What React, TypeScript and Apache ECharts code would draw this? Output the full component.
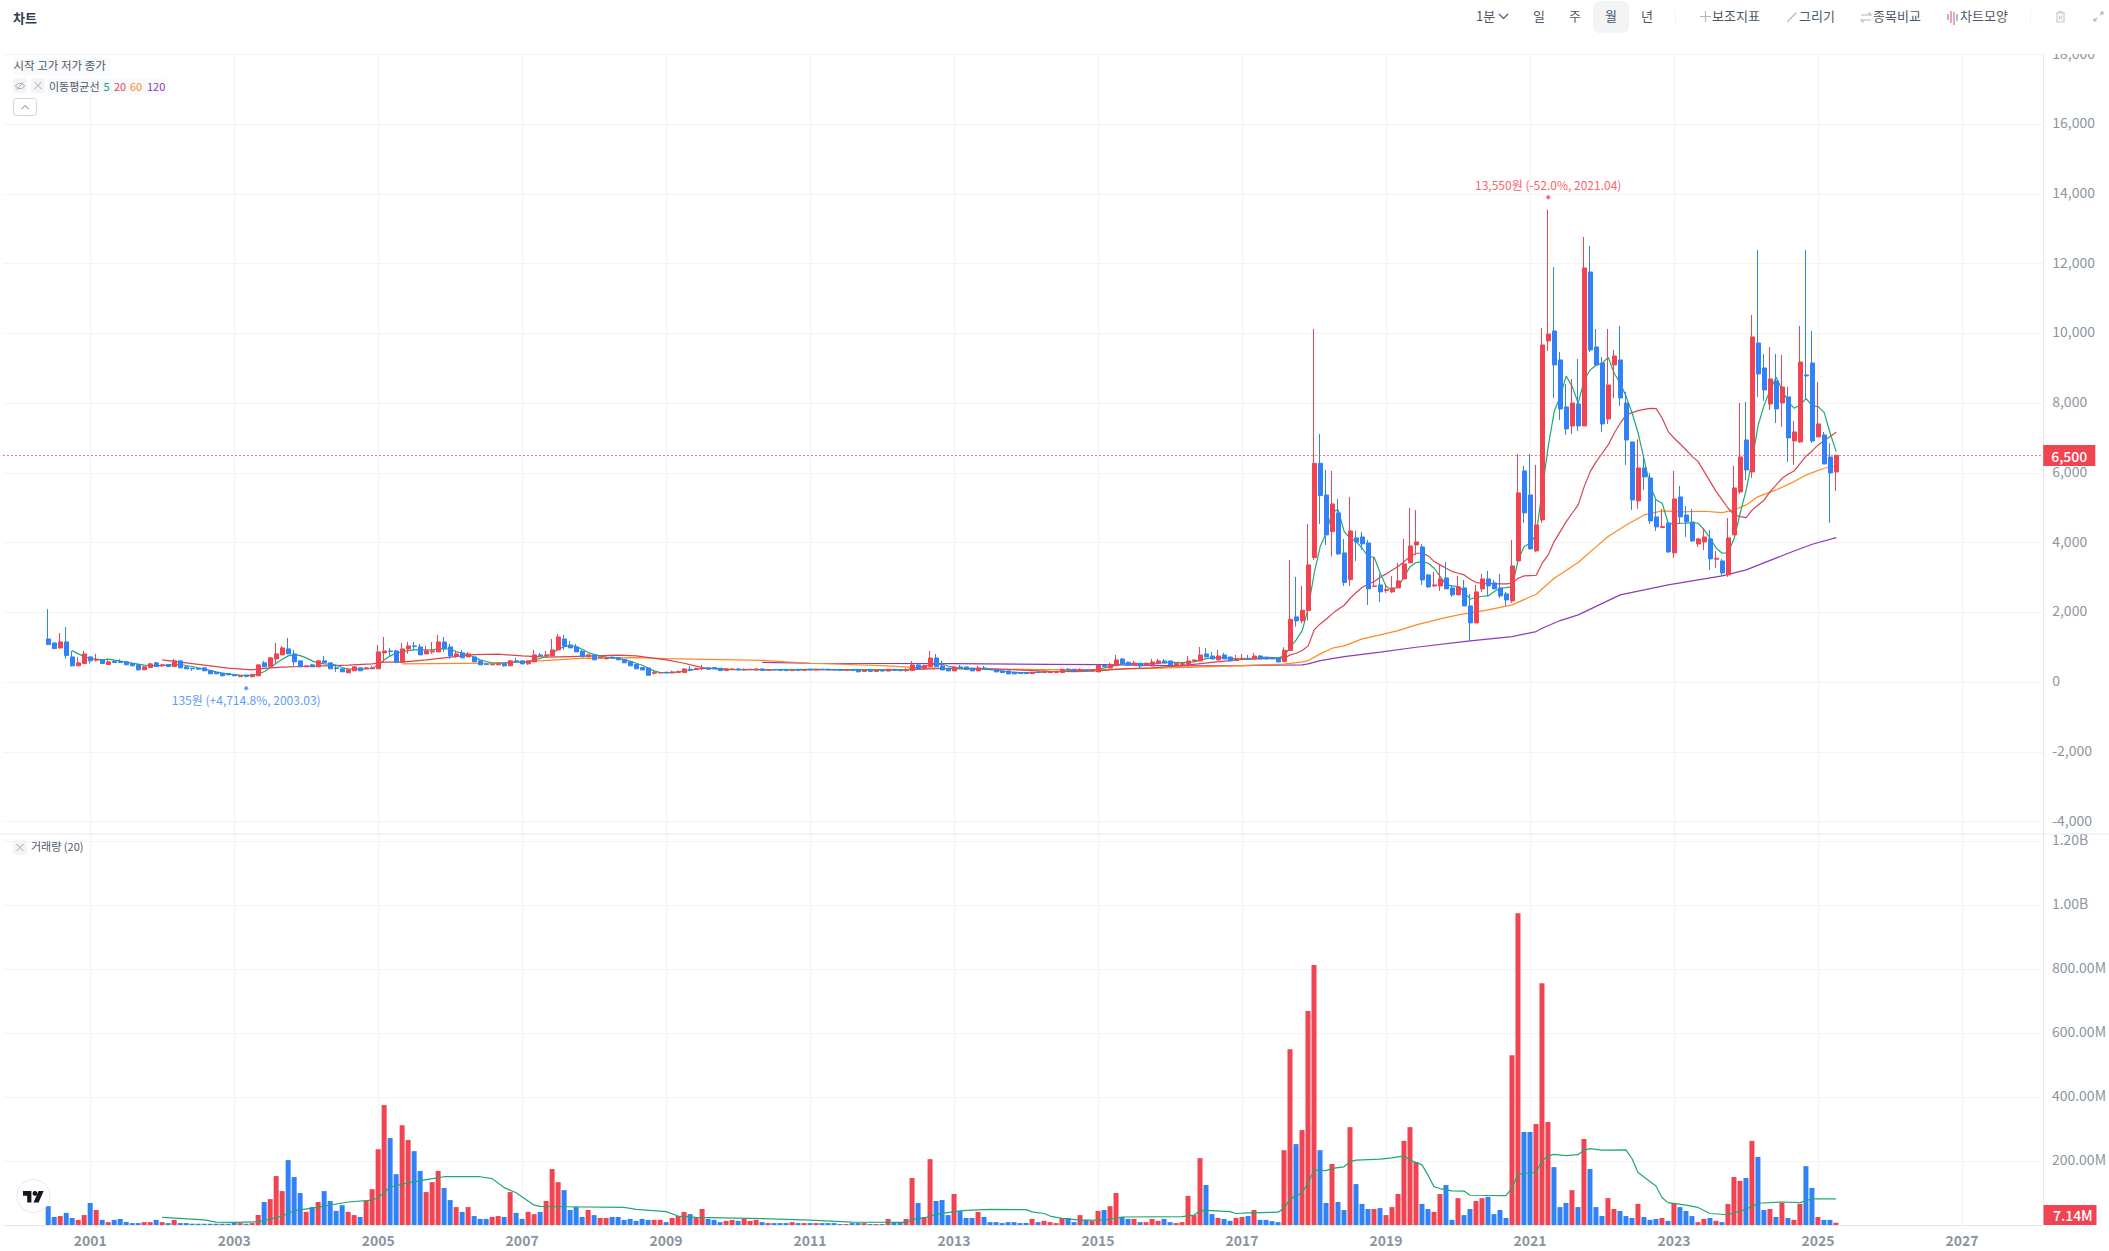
import React, { useEffect, useRef } from "react";
import * as echarts from "echarts";

const FONT = '"Noto Sans CJK KR", "Noto Sans", sans-serif';
const RED = "#f04452";
const BLUE = "#3182f6";
const GRID = "#f2f4f6";
const BORDER = "#e5e8eb";
const AXIS_TEXT = "#8b95a1";
const TEXT = "#4e5968";

const firstCategoryYear = 1999;
const firstCategoryMonth = 11;
const categoryCount = 340;
const firstCandle = "2000.06";
const lastPrice = 6500;
const highMark = { month: "2021.04", value: 13550, text: "13,550원 (-52.0%, 2021.04)" };
const lowMark = { month: "2003.03", value: 135, text: "135원 (+4,714.8%, 2003.03)" };

// open, close, low, high
const ohlc2000to2008 = [
  [1240,1079,1079,2097],[1126,964,964,1126],[983,1155,964,1412],[1155,764,679,1583],[726,469,450,898],[469,555,469,717],[536,812,536,898],
  [726,612,536,736],[631,650,593,812],[641,536,536,660],[507,584,507,641],[593,565,565,641],[593,565,565,660],[584,498,498,593],[536,469,469,545],[498,355,327,507],[355,441,355,469],[422,526,422,555],[555,450,450,584],
  [469,498,450,526],[507,450,450,526],[450,612,450,669],[612,412,412,612],[441,384,384,441],[403,384,327,403],[393,374,355,393],[412,327,327,412],[336,241,241,336],[279,241,241,279],[250,184,184,250],[250,212,212,250],
  [222,184,184,222],[160,193,150,203],[203,165,135,203],[155,222,145,222],[184,498,184,498],[555,441,441,612],[441,698,441,726],[669,812,526,1126],[783,983,783,1041],[955,812,812,1269],[812,584,469,926],[612,441,441,612],
  [441,469,441,480],[498,441,441,526],[441,612,441,641],[612,555,555,755],[555,384,384,555],[412,393,298,469],[384,298,298,384],[269,355,269,412],[327,441,327,441],[412,327,327,412],[384,412,384,441],[384,412,384,469],
  [384,869,384,1069],[841,898,584,1298],[898,879,755,983],[898,574,545,926],[574,955,574,1126],[955,1041,812,1155],[1041,1021,926,1155],[1012,783,783,1098],[812,898,812,1041],[869,898,812,1155],[869,1155,869,1355],[1155,983,869,1298],
  [1012,755,669,1098],[755,812,698,898],[841,698,698,926],[726,812,726,869],[726,584,584,726],[612,498,498,612],[526,507,498,526],[498,516,498,530],[498,526,498,530],[526,469,441,526],[469,612,469,641],[612,593,593,698],
  [612,526,526,612],[526,612,498,612],[584,783,584,926],[783,764,745,841],[755,783,755,898],[755,926,755,1240],[926,1298,926,1383],[1240,1041,926,1355],[1069,983,983,1183],[1012,869,869,1098],[888,726,726,926],[726,783,726,812],
  [783,641,641,812],[698,726,698,740],[669,698,669,710],[717,688,680,730],[698,641,641,726],[650,555,555,650],[584,469,469,584],[507,384,384,507],[419,352,352,419],[409,200,181,409],[257,276,219,333],[267,276,260,285],
];
const ohlc2009to2016 = [
  [286,267,260,290],[267,295,267,333],[276,305,276,333],[276,381,276,390],[371,352,314,466],[362,390,362,419],[390,409,352,495],[409,371,371,420],[419,381,381,430],[400,333,333,400],[333,381,333,400],[362,381,362,409],
  [381,352,340,400],[352,371,340,390],[362,371,352,385],[352,381,350,400],[381,340,333,385],[340,362,333,375],[362,352,345,370],[352,345,340,360],[345,333,325,352],[333,352,330,360],[352,340,335,375],[340,352,335,365],
  [371,352,345,390],[352,371,345,380],[371,362,350,380],[371,352,345,385],[362,352,345,370],[362,340,333,370],[340,362,333,370],[362,340,333,370],[352,300,276,360],[310,340,300,345],[340,310,295,345],[310,345,300,350],
  [345,320,310,352],[320,371,315,381],[371,345,335,375],[345,330,320,352],[330,345,300,400],[333,495,333,609],[495,381,381,552],[400,476,381,500],[447,695,447,895],[695,447,447,809],[466,352,352,609],[400,324,324,400],
  [324,438,324,466],[438,419,400,495],[438,362,362,438],[400,324,324,400],[324,409,324,466],[409,381,370,466],[381,362,362,381],[371,295,295,371],[324,276,276,324],[324,238,238,324],[276,238,238,276],[276,248,248,276],
  [276,248,248,280],[248,286,248,295],[295,276,270,300],[276,314,276,324],[276,295,276,300],[276,314,276,320],[276,371,276,381],[371,352,340,409],[371,333,333,375],[305,362,305,400],[352,324,324,360],[324,352,324,362],
  [295,476,295,505],[476,447,438,495],[409,505,409,552],[476,638,476,781],[666,533,533,690],[571,495,495,590],[495,552,495,609],[543,466,400,552],[495,543,490,560],[466,581,466,666],[543,609,543,666],[609,552,552,666],
  [609,495,495,620],[495,543,495,560],[505,533,505,545],[505,609,505,752],[609,638,600,650],[609,781,609,1009],[809,724,724,981],[752,666,666,866],[638,752,638,923],[781,666,666,838],[724,609,609,730],[619,666,619,781],
];
const ohlc2017to2025 = [
  [666,685,666,809],[685,666,660,781],[666,752,666,838],[752,666,666,781],[705,666,666,710],[705,666,666,720],[666,581,581,670],[592,917,592,1003],[908,1806,908,3507],[1873,1758,1596,3020],[1758,2064,1691,2762],[2055,3364,1768,4539],
  [3574,6278,3507,10129],[6278,5351,4539,7119],[5370,4224,3937,6087],[4319,5112,3603,6058],[4854,3679,3650,5256],[3708,2857,2762,4109],[2943,4338,2762,5313],[4138,4023,3478,4338],[4166,3966,3794,4310],[3994,2676,2217,4080],[2743,2762,2743,3583],[2790,2590,2303,3106],
  [2628,2657,2561,2790],[2590,2704,2561,3048],[2704,2905,2704,3421],[2962,3392,2962,4109],[3421,3908,3421,4998],[3937,4023,3650,4940],[3880,2934,2790,3966],[3077,2733,2704,3106],[2762,2790,2733,3163],[2762,2962,2618,3364],[2991,2676,2676,3450],[2704,2504,2446,2790],
  [2504,2733,2504,3048],[2704,2188,2188,2934],[2188,1701,1185,2532],[1701,2590,1701,2790],[2676,2962,2590,3106],[2962,2762,2475,3192],[2848,2676,2676,2934],[2704,2475,2418,3106],[2532,2360,2188,2590],[2332,3335,2274,4080],[3478,5428,3478,6536],[6058,4854,4568,6202],
  [5370,3822,3822,6536],[3765,4510,3736,6230],[4654,9671,4568,10158],[9785,9986,9499,13550],[10072,9097,8151,11907],[9241,7836,7521,9470],[7893,7263,7091,8553],[7349,8008,7119,8696],[7979,7349,7205,9270],[7349,11878,7349,12767],[11763,9527,9470,12509],[9613,9097,9097,10129],
  [9155,7406,7177,9327],[7549,8524,7406,10129],[9097,9355,8151,9527],[9241,8151,7922,10215],[8008,6947,6230,8323],[6890,5227,4940,6890],[5198,6144,4969,6966],[6144,5887,5514,6517],[5858,4625,4539,6001],[4740,4453,4338,5227],[4434,4463,4424,4969],[4568,3736,3708,4587],
  [3708,5256,3564,6058],[5313,4740,4539,5628],[4797,4596,4166,5055],[4596,4052,4023,4969],[3966,4109,3880,4138],[4023,4166,3794,4424],[4109,3536,3220,4367],[3526,3555,3278,3765],[3478,3134,3048,3536],[3077,4138,3020,4711],[4224,5571,4224,6202],[5456,6460,5399,8008],
  [6947,6087,5800,8037],[6030,9900,5858,10531],[9728,8839,8180,12394],[9011,8381,8065,9413],[7979,8696,7807,9613],[8639,7836,7435,9413],[8008,8467,7320,9384],[8180,7005,6317,8467],[6919,7177,6230,7492],[6890,9183,6861,10215],[8811,8782,8094,12394],[9155,6919,6861,10072],
  [7033,7406,7033,8610],[7091,6259,6259,7177],[6460,6001,4568,6852],[6030,6500,5485,6536],
];

// monthly volume in millions of shares
const volume2000to2008 = [
  59,25,28,38,22,16,31,
  69,47,16,9,16,19,9,6,6,9,9,16,
  9,6,16,6,6,4,4,4,4,4,4,4,
  9,6,4,6,31,72,81,153,106,203,150,100,
  41,56,72,106,75,44,62,41,31,25,75,112,
  237,375,272,159,312,266,231,169,103,134,169,116,
  78,56,41,56,28,19,19,25,28,25,103,38,
  19,41,34,41,75,175,134,109,47,56,25,47,
  31,22,22,25,25,16,19,13,19,16,16,16,
];
const volume2009to2016 = [
  9,22,28,41,34,22,50,19,16,9,13,16,
  13,19,13,16,9,6,6,6,6,9,6,6,
  6,6,6,6,6,3,3,6,6,6,3,3,
  3,19,9,9,19,147,69,25,206,75,78,31,
  97,44,22,22,41,25,9,9,6,9,9,6,
  6,19,9,13,9,6,22,22,9,31,16,13,
  44,47,59,100,25,19,19,9,9,19,13,19,
  9,6,9,91,31,209,125,34,22,19,13,22,
];
const volume2017to2025 = [
  25,28,47,16,16,12,9,234,550,253,297,669,
  813,234,69,191,72,47,306,128,66,50,50,53,
  31,56,97,263,306,197,66,50,41,97,125,16,
  84,31,50,75,84,88,34,47,22,531,975,291,
  291,316,756,322,181,56,69,109,56,269,175,56,
  28,84,50,44,28,22,66,25,16,19,22,13,
  69,56,44,28,9,19,22,13,9,66,150,138,
  147,263,213,47,50,25,69,22,16,66,184,116,
  25,16,16,7.14,
];

const ma5Points = [
  ["2000.10",905],["2000.11",812],["2000.12",736],["2001.01",679],["2001.02",660],["2001.03",641],["2001.04",660],["2001.06",603],["2001.08",545],["2001.10",488],["2001.12",469],["2002.02",488],["2002.04",507],["2002.06",450],["2002.08",374],["2002.10",298],["2002.12",231],["2003.02",203],["2003.04",193],["2003.05",222],["2003.06",307],["2003.07",412],["2003.08",545],["2003.09",660],["2003.10",755],["2003.11",793],["2003.12",764],
  ["2004.01",698],["2004.02",612],["2004.03",545],["2004.04",526],["2004.05",516],["2004.06",488],["2004.07",422],["2004.08",374],["2004.10",374],["2004.12",393],["2005.01",498],["2005.02",641],["2005.03",755],["2005.04",831],["2005.05",869],["2005.06",907],["2005.07",926],["2005.10",926],["2005.11",955],["2005.12",964],["2006.01",945],["2006.02",879],["2006.03",831],["2006.04",793],["2006.05",717],["2006.06",641],["2006.07",593],["2006.08",555],["2006.10",545],["2006.11",565],["2007.01",584],["2007.02",584],["2007.03",641],["2007.04",679],["2007.05",736],["2007.06",822],["2007.07",945],["2007.08",1021],["2007.09",1050],["2007.10",1021],["2007.11",945],["2007.12",850],["2008.01",793],["2008.02",755],["2008.03",717],["2008.05",698],["2008.06",641],["2008.07",603],["2008.08",545],
  ["2008.09",486],["2008.10",400],["2008.11",324],["2008.12",276],["2009.02",276],["2009.04",314],["2009.06",371],["2009.08",400],["2009.10",390],["2009.12",362],["2010.06",362],["2011.01",371],["2011.06",362],["2012.01",352],["2012.05",352],["2012.06",400],["2012.07",428],["2012.08",457],["2012.09",495],["2012.10",514],["2012.11",514],["2012.12",466],["2013.01",419],["2013.02",390],["2013.05",381],["2013.06",371],["2013.08",343],["2013.10",295],["2013.12",276],["2014.02",276],["2014.04",295],["2014.07",314],["2014.09",343],["2014.11",333],["2015.01",371],["2015.03",447],["2015.05",524],["2015.07",533],["2015.09",524],["2015.11",543],["2016.01",571],["2016.03",562],["2016.05",581],["2016.07",676],["2016.09",714],["2016.11",686],["2017.01",666],["2017.03",686],["2017.05",717],["2017.07",698],
  ["2017.08",755],["2017.09",1003],["2017.10",1214],["2017.11",1481],["2017.12",2121],["2018.01",3125],["2018.02",3889],["2018.03",4272],["2018.04",4893],["2018.05",4940],["2018.06",4319],["2018.07",4128],["2018.08",4033],["2018.09",3842],["2018.10",3603],["2018.11",3583],["2018.12",3125],
  ["2019.01",2743],["2019.02",2647],["2019.03",2743],["2019.04",3029],["2019.05",3316],["2019.06",3431],["2019.07",3459],["2019.08",3411],["2019.09",3268],["2019.10",3029],["2019.11",2790],["2019.12",2762],
  ["2020.01",2743],["2020.02",2599],["2020.03",2379],["2020.04",2437],["2020.05",2465],["2020.06",2475],["2020.07",2599],["2020.08",2695],["2020.09",2714],["2020.10",2743],["2020.11",3507],["2020.12",3889],
  ["2021.01",3985],["2021.02",4224],["2021.03",5514],["2021.04",6756],["2021.05",7760],["2021.06",8190],["2021.07",8782],["2021.08",8476],["2021.09",7998],["2021.10",8667],["2021.11",8954],["2021.12",9097],
  ["2022.01",9145],["2022.02",9317],["2022.03",8858],["2022.04",8572],["2022.05",8190],["2022.06",7712],["2022.07",7138],["2022.08",6374],["2022.09",5609],["2022.10",5227],["2022.11",5132],["2022.12",4558],
  ["2023.01",4539],["2023.02",4558],["2023.03",4558],["2023.04",4577],["2023.05",4558],["2023.06",4367],["2023.07",4128],["2023.08",3842],["2023.09",3698],["2023.10",3717],["2023.11",4128],["2023.12",4845],
  ["2024.01",5514],["2024.02",6374],["2024.03",7377],["2024.04",7951],["2024.05",8381],["2024.06",8744],["2024.07",8381],["2024.08",8046],["2024.09",7855],["2024.10",7951],["2024.11",8132],["2024.12",7922],
  ["2025.01",7903],["2025.02",7731],["2025.03",7138],["2025.04",6613],
];
const ma20Points = [
  ["2002.01",641],["2002.04",574],["2002.08",488],["2002.12",402],["2003.04",355],["2003.06",394],["2003.09",431],["2003.12",450],["2004.04",469],["2004.08",488],["2004.12",526],["2005.02",574],["2005.05",574],["2005.09",641],["2006.01",717],["2006.05",793],["2006.09",803],["2007.01",755],["2007.05",717],["2007.09",736],["2008.01",755],["2008.05",774],["2008.08",755],
  ["2009.01",638],["2009.04",543],["2009.07",419],["2009.10",371],["2010.05",362],["2012.01",352],["2012.06",362],["2012.09",381],["2013.01",400],["2013.05",400],["2013.09",371],["2014.05",314],["2014.09",305],["2015.01",324],["2015.05",381],["2015.10",409],["2016.03",476],["2016.08",571],["2017.01",657],["2017.06",685],
  ["2017.08",688],["2017.09",784],["2017.10",831],["2017.11",908],["2017.12",1042],["2018.01",1500],["2018.02",1672],["2018.03",1806],["2018.04",1959],["2018.05",2093],["2018.06",2207],["2018.07",2408],["2018.08",2571],["2018.09",2723],["2018.10",2809],["2018.11",2886],["2018.12",3010],
  ["2019.01",3106],["2019.02",3220],["2019.03",3316],["2019.04",3459],["2019.05",3603],["2019.06",3698],["2019.07",3698],["2019.08",3622],["2019.09",3459],["2019.10",3364],["2019.11",3268],["2019.12",3173],["2020.01",3125],["2020.02",3077],["2020.03",2953],["2020.04",2857],["2020.05",2838],["2020.08",2819],["2020.09",2819],["2020.10",2838],["2020.11",2981],["2020.12",3048],
  ["2021.01",3058],["2021.02",3067],["2021.03",3412],["2021.04",3650],["2021.05",4033],["2021.06",4319],["2021.07",4606],["2021.08",4845],["2021.09",5084],["2021.10",5609],["2021.11",6039],["2021.12",6326],
  ["2022.01",6565],["2022.02",6804],["2022.03",7138],["2022.04",7425],["2022.05",7664],["2022.06",7731],["2022.07",7788],["2022.08",7826],["2022.09",7855],["2022.10",7845],["2022.11",7568],["2022.12",7186],
  ["2023.01",6995],["2023.02",6832],["2023.03",6660],["2023.04",6469],["2023.05",6326],["2023.06",6039],["2023.07",5753],["2023.08",5466],["2023.09",5227],["2023.10",4988],["2023.11",4797],["2023.12",4749],
  ["2024.01",4721],["2024.02",4940],["2024.03",5084],["2024.04",5227],["2024.05",5466],["2024.06",5657],["2024.07",5848],["2024.08",5972],["2024.09",6058],["2024.10",6278],["2024.11",6489],["2024.12",6632],
  ["2025.01",6804],["2025.02",6928],["2025.03",7043],["2025.04",7167],
];
const ma60Points = [
  ["2005.05",526],["2006.08",545],["2007.02",593],["2007.10",679],["2008.08",707],["2009.01",676],["2010.05",628],["2011.01",543],["2012.01",476],["2012.06",428],["2013.01",381],["2014.05",362],["2015.01",362],["2016.01",409],["2017.01",476],["2017.08",516],["2017.11",583],["2017.12",621],["2018.02",812],["2018.04",975],["2018.06",1042],["2018.09",1242],["2018.12",1357],["2019.03",1481],["2019.06",1644],["2019.10",1816],["2020.01",1930],["2020.06",2074],["2020.10",2217],["2021.02",2523],["2021.05",2982],["2021.09",3431],["2021.12",3889],["2022.02",4176],["2022.05",4510],["2022.08",4797],["2022.11",4912],["2023.02",4883],["2023.06",4902],["2023.09",4864],["2023.11",4940],["2024.01",5084],["2024.03",5323],["2024.06",5514],["2024.09",5753],["2024.11",5944],["2025.02",6135],["2025.04",6200],
];
const ma120Points = [
  ["2010.05",571],["2011.01",543],["2013.01",533],["2014.05",514],["2015.02",505],["2016.03",466],["2017.01",478],["2017.11",497],["2017.12",526],["2018.02",621],["2018.06",736],["2018.12",860],["2019.06",1003],["2020.03",1185],["2020.10",1309],["2021.02",1452],["2021.03",1548],["2021.06",1768],["2021.09",1930],["2022.04",2504],["2022.12",2790],["2023.09",3048],["2024.01",3220],["2024.08",3698],["2024.12",3956],["2025.04",4147],
];
const volumeMa20Points = [
  ["2002.01",24],["2002.08",16],["2002.10",9],["2003.01",8],["2003.05",10],["2003.09",28],["2003.11",45],["2004.02",53],["2004.08",72],["2004.12",78],["2005.01",86],["2005.03",118],["2005.06",132],["2005.10",145],["2005.12",151],["2006.06",151],["2006.08",145],["2006.10",117],["2006.12",101],["2007.03",62],["2007.04",58],["2007.08",57],["2008.06",55],["2008.08",49],
  ["2009.01",42],["2009.03",28],["2009.06",24],["2010.05",20],["2011.01",15],["2011.08",9],["2012.05",8],["2012.06",17],["2012.08",22],["2012.10",33],["2013.01",42],["2013.03",46],["2013.07",49],["2014.01",48],["2014.02",41],["2014.04",36],["2014.05",28],["2014.07",21],["2014.10",15],["2015.02",15],["2015.05",25],["2016.03",26],["2016.05",31],["2016.06",44],["2016.07",46],["2016.11",42],["2016.12",36],["2017.02",38],["2017.07",40],
  ["2017.08",52],["2017.09",81],["2017.10",91],["2017.11",101],["2017.12",130],["2018.01",172],["2018.03",170],["2018.04",177],["2018.06",182],["2018.07",198],["2018.08",203],["2018.12",206],["2019.02",210],["2019.04",216],["2019.05",203],["2019.07",188],["2019.08",156],["2019.09",120],["2019.10",114],["2019.12",107],["2020.02",106],["2020.03",93],["2020.09",92],["2020.10",115],["2020.11",159],["2021.02",165],["2021.03",200],["2021.04",216],["2021.05",221],["2021.07",217],["2021.09",220],["2021.10",234],["2021.11",239],["2022.01",234],["2022.05",235],["2022.06",208],["2022.07",164],["2022.10",122],["2022.11",86],["2022.12",70],["2023.03",62],["2023.05",55],["2023.07",36],["2023.10",32],["2024.01",49],["2024.03",68],["2024.07",72],["2024.10",70],["2024.12",82],["2025.04",82],
];

const toolbarPeriods = [["일", 1539], ["주", 1575], ["월", 1611], ["년", 1647]];
const toolbarActions = [["보조지표", 1712], ["그리기", 1799], ["종목비교", 1873], ["차트모양", 1960]];
const maLegend = [["5", 103.6, "#12a66a"], ["20", 114, "#f04452"], ["60", 130, "#ff8a1f"], ["120", 147, "#8e3bb8"]];

const reg = (n: string, d: string) => echarts.graphic.registerShape(n, echarts.graphic.extendPath(d, {}));
reg("tvMark", "M14 19H7V8H0V0h14v19Zm12 0h-8.5L26 0h8.5l-8.5 19Z");
reg("icPlus", "M0 5.5H11M5.5 0V11");
reg("icPencil", "M0 9L7 2L8.5 .5M0 9V10.5");
reg("icSwap", "M0 3H10L7.5 .5M10 8H0L2.5 10.5");
reg("icTrash", "M0 2H9M3 2V.5H6V2M1 2V11H8V2M3.5 4.5V8.5M5.5 4.5V8.5");
reg("icExpand", "M0 9L3 6M0 6.5V9H2.5M9 0L6 3M6.5 0H9V2.5");
reg("icEye", "M0 4.5C2 1 7 1 9 4.5C7 8 2 8 0 4.5ZM1 8L8 1");
reg("icClose", "M0 0L7 7M7 0L0 7");
reg("icChevron", "M0 4L3.5 .5L7 4");
reg("icChevronDown", "M0 0L4.5 4.5L9 0");

const categories: string[] = [];
for (let i = 0; i < categoryCount; i++) {
  const t = firstCategoryYear * 12 + (firstCategoryMonth - 1) + i;
  categories.push(`${Math.floor(t / 12)}.${String((t % 12) + 1).padStart(2, "0")}`);
}
const startIdx = categories.indexOf(firstCandle);
const ohlc = [...ohlc2000to2008, ...ohlc2009to2016, ...ohlc2017to2025];
const volumes = [...volume2000to2008, ...volume2009to2016, ...volume2017to2025];
const isOddYearStart = (_: number, v: string) => v.endsWith(".01") && Number(v.slice(0, 4)) % 2 === 1;

const text = (t: string, x: number, y: number, o: any = {}) => ({
  type: "text", x, y: y - 1.5, z: 20,
  style: { text: t, fill: o.fill ?? TEXT, fontSize: o.size ?? 13, fontWeight: o.weight ?? 400, fontFamily: FONT, align: o.align ?? "left", verticalAlign: "middle" },
});
const box = (x: number, y: number, w: number, h: number, fill: string, r = 0, stroke?: string) => ({
  type: "rect", z: 15, shape: { x, y, width: w, height: h, r }, style: { fill, stroke },
});
const icon = (type: string, x: number, y: number, stroke: string, w = 1.2) => ({
  type, x, y, z: 20, style: { fill: "none", stroke, lineWidth: w },
});
const vbar = (x: number, y1: number, y2: number, stroke: string) => ({
  type: "line", z: 20, shape: { x1: x, y1, x2: x, y2 }, style: { stroke, lineWidth: 1 },
});

function buildOption() {
  const candleData = ohlc.map((r, i) => [categories[startIdx + i], r[0], r[1], r[2], r[3]]);
  const volumeData = volumes.map((v, i) => ({
    value: [categories[startIdx + i], v],
    itemStyle: { color: ohlc[i][1] >= ohlc[i][0] ? RED : BLUE },
  }));
  const maLine = (name: string, data: any[], color: string, x: number, y: number, z = 1) => ({
    name, type: "line", xAxisIndex: x, yAxisIndex: y, data, showSymbol: false, symbol: "none", silent: true, z,
    lineStyle: { color, width: 1.2 },
  });
  const graphic = [
    box(2044, 20, 65, 34, "#ffffff"),
    text("차트", 13, 19, { weight: 700, fill: "#333d4b" }),
    text("1분", 1476, 17),
    icon("icChevronDown", 1499, 14, TEXT),
    box(1593, 1, 36, 32, GRID, 6),
    ...toolbarPeriods.map(([t, x]) => text(t as string, x as number, 17, { align: "center" })),
    vbar(1675.5, 9, 25, GRID),
    ...toolbarActions.map(([t, x]) => text(t as string, x as number, 17)),
    icon("icPlus", 1700, 11, "#b0b8c1"),
    icon("icPencil", 1788, 12, "#b0b8c1"),
    icon("icSwap", 1861, 12, "#b0b8c1"),
    vbar(1948, 14, 20, BLUE), vbar(1951, 11, 23, RED), vbar(1954, 12, 25, RED), vbar(1957, 14, 21, BLUE),
    vbar(2030.5, 9, 25, GRID),
    icon("icTrash", 2056, 11, "#c5cad1"),
    icon("icExpand", 2094, 12, "#b0b8c1"),
    { type: "line", z: 14, shape: { x1: 0, y1: 834, x2: 2109, y2: 834 }, style: { stroke: BORDER, lineWidth: 1 } },
    box(13, 58, 97, 17, "#f9fafb"),
    text("시작 고가 저가 종가", 13.5, 66.5, { size: 11.5 }),
    box(47, 78, 118, 17, "#f9fafb"),
    box(13, 78, 14, 15, GRID, 3),
    box(31, 78, 14, 15, GRID, 3),
    icon("icEye", 15.5, 81.5, "#a0a8b2", 1),
    icon("icClose", 34.5, 82, "#a0a8b2", 1),
    text("이동평균선", 49, 87, { size: 11 }),
    ...maLegend.map(([t, x, c]) => text(t as string, x as number, 87, { size: 11, fill: c })),
    box(13.5, 98.5, 23, 17, "#ffffff", 3, "#d1d6db"),
    icon("icChevron", 21.5, 105, "#6b7684", 1),
    box(13, 840, 14, 15, GRID, 3),
    icon("icClose", 16.5, 844, "#a0a8b2", 1),
    text("거래량 (20)", 31, 847.5, { size: 11 }),
    { type: "circle", z: 15, shape: { cx: 33.5, cy: 1196, r: 16.5 }, style: { fill: "#ffffff", stroke: "#e5e7f0", lineWidth: 1 } },
    { type: "tvMark", x: 23, y: 1191, scaleX: 0.6, scaleY: 0.6, z: 20, style: { fill: "#131722" } },
    { type: "circle", z: 20, shape: { cx: 35, cy: 1193.4, r: 2.4 }, style: { fill: "#131722" } },
    box(2043.5, 1205, 53, 20, RED),
    text("7.14M", 2053, 1216, { size: 14, weight: 500, fill: "#ffffff" }),
  ];

  const gridX = { left: 3.2, width: 2040 };
  const xBase = { type: "category", data: categories, boundaryGap: true };
  return {
    animation: false,
    textStyle: { fontFamily: FONT },
    grid: [
      { ...gridX, top: 54.5, height: 767.2 },
      { ...gridX, top: 841.3, height: 383.7 },
      { ...gridX, top: 54, height: 1171 },
    ],
    xAxis: [
      { ...xBase, gridIndex: 0, axisLine: { show: false }, axisTick: { show: false }, axisLabel: { show: false }, splitLine: { show: false } },
      {
        ...xBase, gridIndex: 1,
        axisLine: { show: true, lineStyle: { color: BORDER } }, axisTick: { show: false },
        axisLabel: { show: true, interval: isOddYearStart, formatter: (v: string) => v.slice(0, 4), color: AXIS_TEXT, fontSize: 14, fontWeight: 700, fontFamily: FONT, margin: 8 },
        splitLine: { show: false },
      },
      {
        ...xBase, gridIndex: 2, axisLine: { show: false }, axisTick: { show: false }, axisLabel: { show: false },
        splitLine: { show: true, interval: isOddYearStart, alignWithLabel: true, lineStyle: { color: GRID, width: 1 } },
      },
    ],
    yAxis: [
      {
        type: "value", gridIndex: 0, position: "right", min: -4000, max: 18000, interval: 2000, scale: false,
        axisLine: { show: false }, axisTick: { show: false },
        axisLabel: { color: AXIS_TEXT, fontSize: 14, fontFamily: FONT, margin: 9, verticalAlign: "bottom", lineHeight: 4, formatter: (v: number) => v.toLocaleString("en-US") },
        splitLine: { lineStyle: { color: GRID, width: 1 } },
      },
      {
        type: "value", gridIndex: 1, position: "right", min: 0, max: 1200, interval: 200,
        axisLine: { show: false }, axisTick: { show: false },
        axisLabel: { color: AXIS_TEXT, fontSize: 14, fontFamily: FONT, margin: 9, verticalAlign: "bottom", lineHeight: 4, showMinLabel: false, formatter: (v: number) => (v >= 1000 ? (v / 1000).toFixed(2) + "B" : v.toFixed(2) + "M") },
        splitLine: { lineStyle: { color: GRID, width: 1 } },
      },
      {
        type: "value", gridIndex: 2, position: "right", min: 0, max: 1,
        axisLine: { show: true, lineStyle: { color: BORDER } }, axisTick: { show: false }, axisLabel: { show: false }, splitLine: { show: false },
      },
    ],
    series: [
      maLine("MA120", ma120Points, "#8e3bb8", 0, 0),
      maLine("MA60", ma60Points, "#ff8a1f", 0, 0),
      maLine("MA20", ma20Points, "#d9434f", 0, 0),
      maLine("MA5", ma5Points, "#1fa971", 0, 0),
      {
        name: "시세", type: "candlestick", xAxisIndex: 0, yAxisIndex: 0, z: 2, barWidth: 4.4,
        data: candleData, encode: { x: 0, y: [1, 2, 3, 4] }, silent: true,
        itemStyle: { color: RED, color0: BLUE, borderColor: RED, borderColor0: BLUE, borderWidth: 1 },
        markLine: {
          silent: true, symbol: "none", animation: false,
          lineStyle: { color: RED, type: [1.5, 2.5], width: 1, opacity: 1 },
          label: { show: true, position: "end", distance: 0, formatter: lastPrice.toLocaleString("en-US"), color: "#fff", backgroundColor: RED, fontSize: 14, fontWeight: 500, fontFamily: FONT, lineHeight: 14, padding: [2.5, 8, 4.5, 8] },
          data: [{ yAxis: lastPrice }],
        },
        markPoint: {
          silent: true, symbol: "diamond", symbolSize: 5, animation: false,
          data: [
            { coord: [highMark.month, highMark.value], symbolOffset: [0, -12.5], itemStyle: { color: "#f66570" }, label: { show: true, position: "top", distance: 4.5, formatter: highMark.text, color: "#f66570", fontSize: 12, fontFamily: FONT } },
            { coord: [lowMark.month, lowMark.value], symbolOffset: [0, 10.7], itemStyle: { color: "#5b9cf8" }, label: { show: true, position: "bottom", distance: 3, formatter: lowMark.text, color: "#5b9cf8", fontSize: 12, fontFamily: FONT } },
          ],
        },
      },
      { name: "거래량", type: "bar", xAxisIndex: 1, yAxisIndex: 1, barWidth: 5, data: volumeData, z: 2, silent: true },
      maLine("거래량 MA20", volumeMa20Points, "#1fa971", 1, 1, 3),
    ],
    graphic: { elements: graphic },
  };
}

export default function App() {
  const ref = useRef<HTMLDivElement>(null);
  useEffect(() => {
    document.body.style.margin = "0";
    const chart = echarts.init(ref.current!, undefined, { renderer: "svg" });
    chart.setOption(buildOption() as any);
    return () => chart.dispose();
  }, []);
  return <div ref={ref} style={{ width: 2109, height: 1251, background: "#ffffff" }} />;
}
